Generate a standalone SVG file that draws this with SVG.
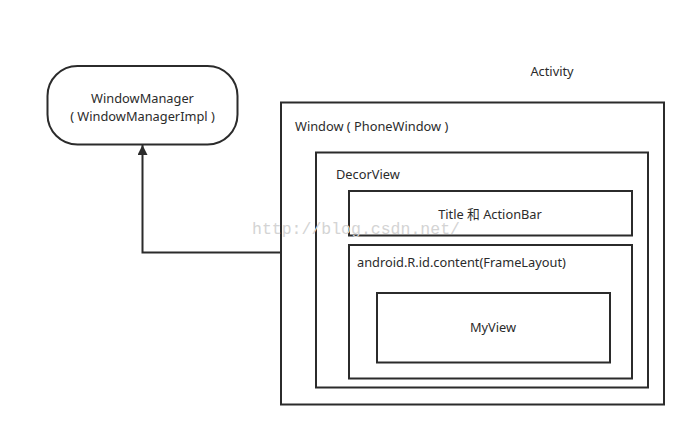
<svg xmlns="http://www.w3.org/2000/svg" width="696" height="437" viewBox="0 0 696 437">
<style>
.box{fill:none;stroke:#2b2b2b;stroke-width:2}
.t{font-family:"Noto Sans","Noto Sans CJK SC",sans-serif;font-size:12.8px;fill:#2b2b2b}
.wm{font-family:"Liberation Mono",monospace;font-size:16.5px;fill:#d4d4d4}
</style>
<defs>
<marker id="ah" markerWidth="10" markerHeight="10" refX="10" refY="5" orient="auto" markerUnits="userSpaceOnUse">
<path d="M0,0 L10,5 L0,10 Z" fill="#2b2b2b"/>
</marker>
</defs>
<rect width="696" height="437" fill="#fff"/>
<text class="t" x="552" y="76" text-anchor="middle">Activity</text>
<g id="windowmanager">
<rect class="box" x="47.5" y="66" width="190" height="78.5" rx="30" ry="30"/>
<text class="t" x="142.5" y="103" text-anchor="middle">WindowManager</text>
<text class="t" x="142.5" y="121" text-anchor="middle">( WindowManagerImpl )</text>
</g>
<g id="window">
<rect class="box" x="281" y="102.5" width="383" height="302"/>
<text class="t" x="295" y="131">Window ( PhoneWindow )</text>
</g>
<g id="decorview">
<rect class="box" x="316" y="152.5" width="332" height="235"/>
<text class="t" x="336" y="179">DecorView</text>
</g>
<g id="titlebar">
<rect class="box" x="349" y="191" width="283" height="44.5"/>
<text class="t" x="490" y="219" text-anchor="middle">Title 和 ActionBar</text>
</g>
<g id="content">
<rect class="box" x="349" y="245" width="283" height="133.5"/>
<text class="t" x="357" y="267">android.R.id.content(FrameLayout)</text>
</g>
<g id="myview">
<rect class="box" x="377" y="293" width="233" height="69.5"/>
<text class="t" x="493" y="332" text-anchor="middle">MyView</text>
</g>
<text class="wm" x="252" y="234">http://blog.csdn.net/</text>
<g id="connectors">
<path d="M281,252.5 H142.5 V145" fill="none" stroke="#2b2b2b" stroke-width="2" marker-end="url(#ah)"/>
</g>
</svg>
